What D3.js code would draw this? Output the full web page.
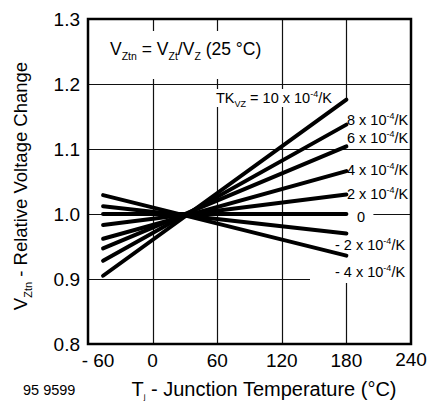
<!DOCTYPE html>
<html>
<head>
<meta charset="utf-8">
<script src="https://cdn.jsdelivr.net/npm/d3@7"></script>
<style>
  body { margin: 0; background: #fff; }
  svg { display: block; font-family: "Liberation Sans", Arial, Helvetica, sans-serif; }
</style>
</head>
<body>
<svg id="mainSvg" width="428" height="401"></svg>
<script>
// temperature coefficients TK_VZ in 10^-4/K
const coefficients = [10, 8, 6, 4, 2, 0, -2, -4];
const startTemp = -46;
const endTemp = 180;
const startValues = [0.905, 0.928, 0.947, 0.962, 0.983, 1.0, 1.012, 1.029];
const endValues = [1.176, 1.1375, 1.104, 1.066, 1.030, 1.0, 0.970, 0.936];

const xTicks = [-60, 0, 60, 120, 180, 240];
const yTicks = [0.8, 0.9, 1.0, 1.1, 1.2, 1.3];
const xGrid = [0, 60, 120, 180];
const yGrid = [0.9, 1.0, 1.1, 1.2];

let canvas = d3.select("#mainSvg");

let x = d3.scaleLinear().domain([-60, 240]).range([88, 411]);
let y = d3.scaleLinear().domain([0.8, 1.3]).range([344, 19]);

function drawChart() {
    drawGrid();
    drawMasks();
    drawLines();
    drawLabels();
    drawAxes();
}

function drawGrid() {
    canvas.selectAll("line.vgrid")
        .data(xGrid)
        .enter()
            .append("line")
            .attr("class", "vgrid")
            .attr("x1", d => Math.round(x(d)) + 0.5).attr("x2", d => Math.round(x(d)) + 0.5)
            .attr("y1", y(1.3)).attr("y2", y(0.8))
            .attr("style", "stroke:#111;stroke-width:1.2");

    // the label column hides the 180 gridline
    canvas.append("rect")
        .attr("x", x(180) - 2).attr("y", y(endValues[0]) + 1)
        .attr("width", 4).attr("height", 280 - y(endValues[0]))
        .attr("fill", "#fff");

    canvas.selectAll("line.hgrid")
        .data(yGrid)
        .enter()
            .append("line")
            .attr("class", "hgrid")
            .attr("x1", x(-60)).attr("x2", x(240))
            .attr("y1", d => Math.round(y(d)) + 0.5).attr("y2", d => Math.round(y(d)) + 0.5)
            .attr("style", "stroke:#111;stroke-width:1.2");
}

function drawMasks() {
    // white boxes behind the annotations
    let boxes = [
        {x: 104, y: 31, w: 162, h: 48},
        {x: 214, y: 89, w: 124, h: 18},
        {x: x(180) - 1, y: 205, w: 28, h: 20},
        {x: 310, y: 262, w: 100, h: 21}
    ];
    canvas.selectAll("rect.mask")
        .data(boxes)
        .enter()
            .append("rect")
            .attr("class", "mask")
            .attr("x", d => d.x).attr("y", d => d.y)
            .attr("width", d => d.w).attr("height", d => d.h)
            .attr("fill", "#fff");
}

function drawLines() {
    canvas.selectAll("line.tk")
        .data(coefficients)
        .enter()
            .append("line")
            .attr("class", "tk")
            .attr("x1", x(startTemp))
            .attr("y1", (d, i) => y(startValues[i]))
            .attr("x2", x(endTemp))
            .attr("y2", (d, i) => y(endValues[i]))
            .attr("style", "stroke:#000;stroke-width:4;stroke-linecap:round");
}

function addTk(text, k) {
    if (k === 0) {
        text.append("tspan").text("0");
        return;
    }
    let mant = k < 0 ? "- " + (-k) : "" + k;
    text.append("tspan").text(mant + " x 10");
    text.append("tspan").attr("font-size", "9px").attr("dy", -6).text("-4");
    text.append("tspan").attr("dy", 6).text("/K");
}

function drawLabels() {
    // main annotation
    let ann = canvas.append("text")
        .attr("x", 110).attr("y", 55)
        .attr("font-size", "17.5px");
    ann.append("tspan").text("V");
    ann.append("tspan").attr("font-size", "10.5px").attr("dy", 5).text("Ztn");
    ann.append("tspan").attr("dy", -5).text(" = V");
    ann.append("tspan").attr("font-size", "10.5px").attr("dy", 5).text("Zt");
    ann.append("tspan").attr("dy", -5).text("/V");
    ann.append("tspan").attr("font-size", "10.5px").attr("dy", 5).text("Z");
    ann.append("tspan").attr("dy", -5).text(" (25 °C)");

    // coefficient labels
    let tk = canvas.append("text")
        .attr("x", 216).attr("y", 103)
        .attr("font-size", "14.5px");
    tk.append("tspan").text("TK");
    tk.append("tspan").attr("font-size", "9px").attr("dy", 4).text("VZ");
    tk.append("tspan").attr("dy", -4).text(" = ");
    addTk(tk, coefficients[0]);

    let baselines = [null, 125, 143, 175, 199, 221.5, 250, 277];
    let lefts = [null, 347, 347, 347, 347, 357, 335, 335];
    coefficients.forEach((k, i) => {
        if (i === 0) return;
        let t = canvas.append("text")
            .attr("x", lefts[i]).attr("y", baselines[i])
            .attr("font-size", "14.5px");
        addTk(t, k);
    });
}

function drawAxes() {
    canvas.append("rect")
        .attr("x", x(-60)).attr("y", y(1.3))
        .attr("width", x(240) - x(-60)).attr("height", y(0.8) - y(1.3))
        .attr("fill", "none")
        .attr("style", "stroke:#000;stroke-width:2.5");

    canvas.selectAll("text.xtick")
        .data(xTicks)
        .enter()
            .append("text")
            .attr("class", "xtick")
            .attr("x", d => x(d) + (d < 0 ? 10 : 0))
            .attr("y", d => d === 240 ? 365.5 : 367)
            .attr("text-anchor", "middle")
            .attr("font-size", "19px")
            .text(d => d < 0 ? "- " + (-d) : d);

    canvas.selectAll("text.ytick")
        .data(yTicks)
        .enter()
            .append("text")
            .attr("class", "ytick")
            .attr("x", 80)
            .attr("y", d => y(d) + 6.5)
            .attr("text-anchor", "end")
            .attr("font-size", "19px")
            .text(d => d3.format(".1f")(d));

    let xt = canvas.append("text")
        .attr("x", 264).attr("y", 396)
        .attr("text-anchor", "middle")
        .attr("font-size", "20px");
    xt.append("tspan").text("T");
    xt.append("tspan").attr("font-size", "8px").attr("dy", 3).text("j");
    xt.append("tspan").attr("dy", -3).text(" - Junction Temperature (°C)");

    let yt = canvas.append("text")
        .attr("transform", "translate(27,186) rotate(-90)")
        .attr("text-anchor", "middle")
        .attr("font-size", "18.5px");
    yt.append("tspan").text("V");
    yt.append("tspan").attr("font-size", "11px").attr("dy", 5).text("Ztn");
    yt.append("tspan").attr("dy", -5).text(" - Relative Voltage Change");

    canvas.append("text")
        .attr("x", 23).attr("y", 395)
        .attr("font-size", "14.5px")
        .text("95 9599");
}

drawChart();
</script>
</body>
</html>
